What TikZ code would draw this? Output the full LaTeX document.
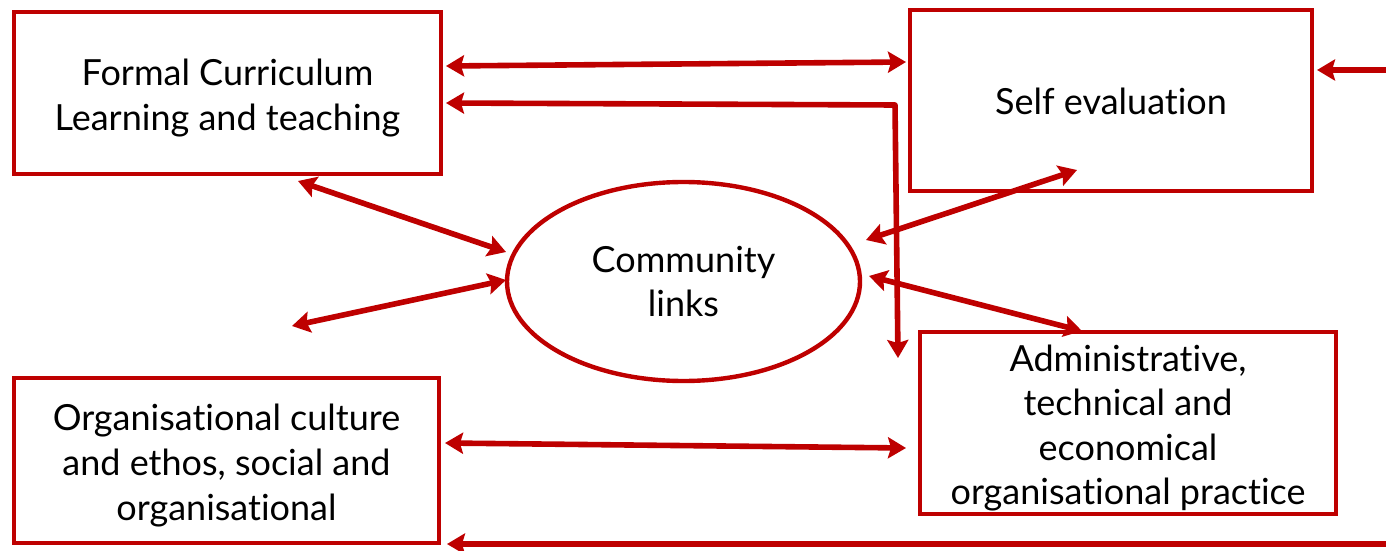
\documentclass[tikz,border=0pt]{standalone}
\usepackage{fontspec}
\setmainfont{Lato}[Ligatures=NoCommon]
\usetikzlibrary{arrows.meta,shapes.geometric}
\definecolor{dred}{RGB}{190,0,0}
\begin{document}
\begin{tikzpicture}[x=0.5pt,y=-0.5pt,
  box/.style={draw=dred,line width=2.2pt,rectangle,inner sep=0pt},
  oval/.style={draw=dred,line width=2.2pt,ellipse,inner sep=0pt},
  txt/.style={inner sep=0pt,align=center,font=\fontsize{18}{22.3}\selectfont},
  arr/.style={draw=dred,line width=2.8pt,{Stealth[length=9pt,width=10.5pt,inset=1.5pt]}-{Stealth[length=9pt,width=10.5pt,inset=1.5pt]}},
  arrl/.style={draw=dred,line width=2.8pt,-{Stealth[length=9pt,width=10.5pt,inset=1.5pt]}}]
\useasboundingbox (0,0) rectangle (1386,551);
\node[box,minimum width=213.5pt,minimum height=81pt] (A) at (227.5,93) {};
\node[box,minimum width=201pt,minimum height=90.5pt] (B) at (1111,100.5) {};
\node[oval,minimum width=176.5pt,minimum height=99.5pt] (E) at (683.5,281.5) {};
\node[box,minimum width=212.5pt,minimum height=82.5pt] (C) at (226.5,460.5) {};
\node[box,minimum width=208pt,minimum height=91pt] (D) at (1128,423) {};
\node[txt] (At) at ([yshift=-2.5pt]A.center) {Formal Curriculum\\Learning and teaching};
\node[txt] (Bt) at ([yshift=-0.5pt]B.center) {Self evaluation};
\node[txt] (Et) at (E.center) {Community\\links};
\node[txt] (Ct) at ([yshift=-2.5pt]C.center) {Organisational culture\\and ethos, social and\\organisational};
\node[txt] (Dt) at ([yshift=-2.5pt]D.center) {Administrative,\\technical and\\economical\\organisational practice};
% connector ends
\coordinate (a1) at (446,66);   \coordinate (b1) at (906,62);
\coordinate (a2) at (446,103);  \coordinate (k2) at (895,105); \coordinate (d2) at (898,358);
\coordinate (a3) at (298,181);  \coordinate (e3) at (506,252);
\coordinate (f4) at (292,326);  \coordinate (e4) at (506,280);
\coordinate (e5) at (866,240);  \coordinate (b5) at (1077,170);
\coordinate (e6) at (869,276);  \coordinate (d6) at (1082,331);
\coordinate (r7) at (1386,70);  \coordinate (b7) at (1317,70);
\coordinate (c8) at (445,443);  \coordinate (d8) at (906,448);
\coordinate (r9) at (1386,544); \coordinate (c9) at (447,544);
\draw[arr] (a1) -- (b1);
\draw[arr,line join=round] (a2) -- (k2) -- (d2);
\draw[arr] (a3) -- (e3);
\draw[arr] (f4) -- (e4);
\draw[arr] (e5) -- (b5);
\draw[arr] (e6) -- (d6);
\draw[arrl] (r7) -- (b7);
\draw[arr] (c8) -- (d8);
\draw[arrl] (r9) -- (c9);
\end{tikzpicture}
\end{document}
